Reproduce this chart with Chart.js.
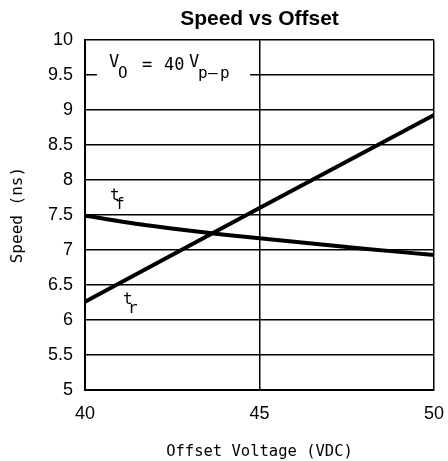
<!DOCTYPE html>
<html>
<head>
<meta charset="utf-8">
<script src="https://cdn.jsdelivr.net/npm/chart.js@4"></script>
<style>
  html, body { margin:0; padding:0; background:#fff; }
  #wrap { width:448px; height:461px; }
</style>
</head>
<body>
<div id="wrap"><canvas id="c"></canvas></div>
<script>
// ---- data ----
const offsetFall = [40, 42, 44, 46, 48, 50];
const speedFall  = [7.49, 7.34, 7.22, 7.12, 7.02, 6.93];   // t_f
const offsetRise = [40, 45, 50];
const speedRise  = [6.26, 7.6, 8.93];                      // t_r
const xTicks = [40, 45, 50];
const yTicks = [5, 5.5, 6, 6.5, 7, 7.5, 8, 8.5, 9, 9.5, 10];

const MONO = '"DejaVu Sans Mono", monospace';
const SANS = '"Liberation Sans", Arial, sans-serif';

const toPts = (xs, ys) => xs.map((x, i) => ({ x, y: ys[i] }));

// text notes inside the plot: V_O = 40 V_p-p, t_f, t_r
const notes = {
  id: 'notes',
  afterDraw(chart) {
    const { ctx, scales: { x, y } } = chart;
    ctx.save();
    // white box behind the Vo label (breaks the 9.5 gridline)
    const bx0 = x.getPixelForValue(40.34), bx1 = x.getPixelForValue(44.73);
    ctx.fillStyle = '#fff';
    ctx.fillRect(bx0, y.getPixelForValue(9.5) - 3, bx1 - bx0, 6);
    ctx.fillStyle = '#000';
    ctx.textBaseline = 'alphabetic';
    const txt = (s, px, py, size) => { ctx.font = size + 'px ' + MONO; ctx.fillText(s, px, py); };
    // V_O = 40 V_p-p
    txt('V', 109, 67, 17);
    txt('O', 118, 78, 16);
    txt('=', 142, 70, 17);
    txt('40', 164, 70, 17);
    txt('V', 189, 67, 17);
    txt('p', 198, 78, 16);
    txt('–', 208, 78, 16);
    txt('p', 220, 78, 16);
    // curve labels
    txt('t', 110, 200, 16);
    txt('f', 115, 209, 16);
    txt('t', 123, 304, 16);
    txt('r', 128, 313, 16);
    ctx.restore();
  }
};

new Chart(document.getElementById('c'), {
  type: 'line',
  data: {
    datasets: [
      { label: 't_f', data: toPts(offsetFall, speedFall), borderColor: '#000', borderWidth: 4, pointRadius: 0, tension: 0.3, fill: false },
      { label: 't_r', data: toPts(offsetRise, speedRise), borderColor: '#000', borderWidth: 4, pointRadius: 0, tension: 0, fill: false }
    ]
  },
  options: {
    responsive: true,
    maintainAspectRatio: false,
    animation: false,
    layout: { padding: { left: 0, right: 14, top: 0, bottom: 0 } },
    plugins: {
      legend: { display: false },
      tooltip: { enabled: false },
      title: {
        display: true,
        text: 'Speed vs Offset',
        color: '#000',
        fullSize: false,
        font: { family: SANS, size: 21, weight: 'bold' },
        padding: { top: 7, bottom: 8 }
      }
    },
    scales: {
      x: {
        type: 'linear',
        min: 40, max: 50,
        afterBuildTicks: s => { s.ticks = xTicks.map(v => ({ value: v })); },
        afterFit: s => { s.height = 71; s.paddingLeft = 0; s.paddingRight = 0; },
        grid: { color: '#000', lineWidth: 1.5, drawTicks: false },
        border: { color: '#000', width: 2 },
        ticks: { color: '#000', padding: 13, font: { family: SANS, size: 18 }, callback: v => String(v) },
        title: { display: true, text: 'Offset Voltage (VDC)', color: '#000', font: { family: MONO, size: 15.5 }, padding: { top: 8, bottom: 0 } }
      },
      y: {
        min: 5, max: 10,
        afterBuildTicks: s => { s.ticks = yTicks.map(v => ({ value: v })); },
        afterFit: s => { s.width = 85; s.paddingTop = 0; s.paddingBottom = 0; },
        grid: { color: '#000', lineWidth: 1.5, drawTicks: false },
        border: { color: '#000', width: 2 },
        ticks: { color: '#000', padding: 12, font: { family: SANS, size: 18 }, callback: v => String(v) },
        title: { display: true, text: 'Speed (ns)', color: '#000', font: { family: MONO, size: 16 }, padding: { top: 8, bottom: 0 } }
      }
    }
  },
  plugins: [notes]
});
</script>
</body>
</html>
